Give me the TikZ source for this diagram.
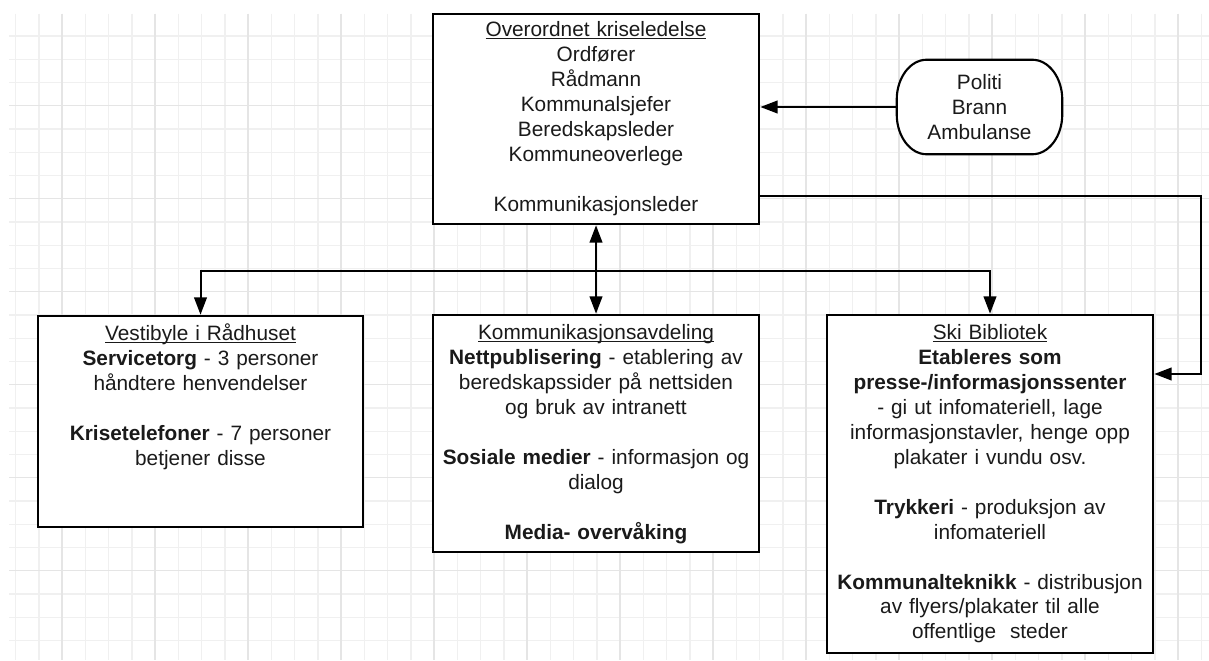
\documentclass[tikz,border=0pt]{standalone}
\usepackage{fontspec}
\setmainfont{Liberation Sans}
\usetikzlibrary{arrows.meta,calc,fit}
\definecolor{gridl}{HTML}{F0F0F0}
\definecolor{gridd}{HTML}{E5E5E5}
\definecolor{inkc}{HTML}{1A1A1A}
\newcommand\ulin[1]{\underline{\smash{#1}}}
\begin{document}
\begin{tikzpicture}[x=0.75pt,y=-0.75pt,
  every node/.style={font=\fontsize{15.6pt}{18.7pt}\selectfont, text=inkc},
  box/.style={draw, line width=2pt, fill=white, inner sep=0pt},
  txt/.style={anchor=base, text width=240pt, align=center, inner sep=0pt},
  conn/.style={line width=1.5pt, -{Triangle[length=13pt,width=9.5pt]}},
  conn2/.style={line width=1.5pt, {Triangle[length=13pt,width=9.5pt]}-{Triangle[length=13pt,width=9.5pt]}},
  gl/.style={draw=gridl, line width=1pt},
  gd/.style={draw=gridd, line width=1pt}]
\useasboundingbox (0,0) rectangle (1209,660);
\fill[white] (0,0) rectangle (1209,660);
% grid
\foreach \i in {0,...,51}{\draw[gl] ({15.6+\i*23.25},14) -- ({15.6+\i*23.25},660);}
\foreach \i in {0,...,26}{\draw[gl] (9,{36+\i*23.25}) -- (1209,{36+\i*23.25});}
\foreach \i in {0,...,12}{\draw[gd] ({62.1+\i*93},14) -- ({62.1+\i*93},660);}
\foreach \i in {0,...,5}{\draw[gd] (9,{105.75+\i*93}) -- (1209,{105.75+\i*93});}
% boxes
\node[box, fit={(433,14) (759,224)}] (top) {};
\node[box, fit={(38,316) (363,527)}] (vest) {};
\node[box, fit={(433,315) (759,552)}] (mid) {};
\node[box, fit={(827,315) (1153,653)}] (ski) {};
\node[inner sep=0pt, fit={(897,60) (1062,154)}] (pol) {};
\draw[line width=1.6pt, fill=white]
  ([xshift=22.5pt]pol.north west) -- ([xshift=-22.5pt]pol.north east)
  arc[start angle=90,end angle=0,x radius=22.5pt,y radius=30pt]
  -- ([yshift=30pt]pol.south east)
  arc[start angle=0,end angle=-90,x radius=22.5pt,y radius=30pt]
  -- ([xshift=22.5pt]pol.south west)
  arc[start angle=270,end angle=180,x radius=22.5pt,y radius=30pt]
  -- ([yshift=-30pt]pol.north west)
  arc[start angle=180,end angle=90,x radius=22.5pt,y radius=30pt] -- cycle;
% texts
\node[align=center, inner sep=0pt] (poltxt) at (pol.center) {Politi\\Brann\\Ambulanse};
\node[txt] (toptxt) at ($(top.north)+(0,24)$) {\ulin{Overordnet kriseledelse}\\ Ordfører\\ Rådmann\\ Kommunalsjefer\\ Beredskapsleder\\ Kommuneoverlege\\[18.7pt] Kommunikasjonsleder};
\node[txt] (vesttxt) at ($(vest.north)+(0,26)$) {\ulin{Vestibyle i Rådhuset}\\ \textbf{Servicetorg} - 3 personer\\ håndtere henvendelser\\[18.7pt] \textbf{Krisetelefoner} - 7 personer\\ betjener disse};
\node[txt] (midtxt) at ($(mid.north)+(0,26)$) {\ulin{Kommunikasjonsavdeling}\\ \textbf{Nettpublisering} - etablering av\\ beredskapssider på nettsiden\\ og bruk av intranett\\[18.7pt] \textbf{Sosiale medier} - informasjon og\\ dialog\\[18.7pt] \textbf{Media- overvåking}};
\node[txt] (skitxt) at ($(ski.north)+(0,26)$) {\ulin{Ski Bibliotek}\\ \textbf{Etableres som}\\ \textbf{presse-/informasjonssenter}\\ - gi ut infomateriell, lage\\ informasjonstavler, henge opp\\ plakater i vundu osv.\\[18.7pt] \textbf{Trykkeri} - produksjon av\\ infomateriell\\[18.7pt] \textbf{Kommunalteknikk} - distribusjon\\ av flyers/plakater til alle\\ offentlige\ \ steder};
% connectors
\draw[conn] (pol.west) -- (pol.west -| top.east);
\coordinate (rt) at (1201,196);
\draw[conn] (top.east |- rt) -- (rt) |- (ski.east |- 0,374);
\draw[conn2] (top.south) -- (mid.north);
\coordinate (bus) at (596,271);
\draw[conn] (bus) -| (vest.north);
\draw[conn] (bus) -| (ski.north);
\end{tikzpicture}
\end{document}
